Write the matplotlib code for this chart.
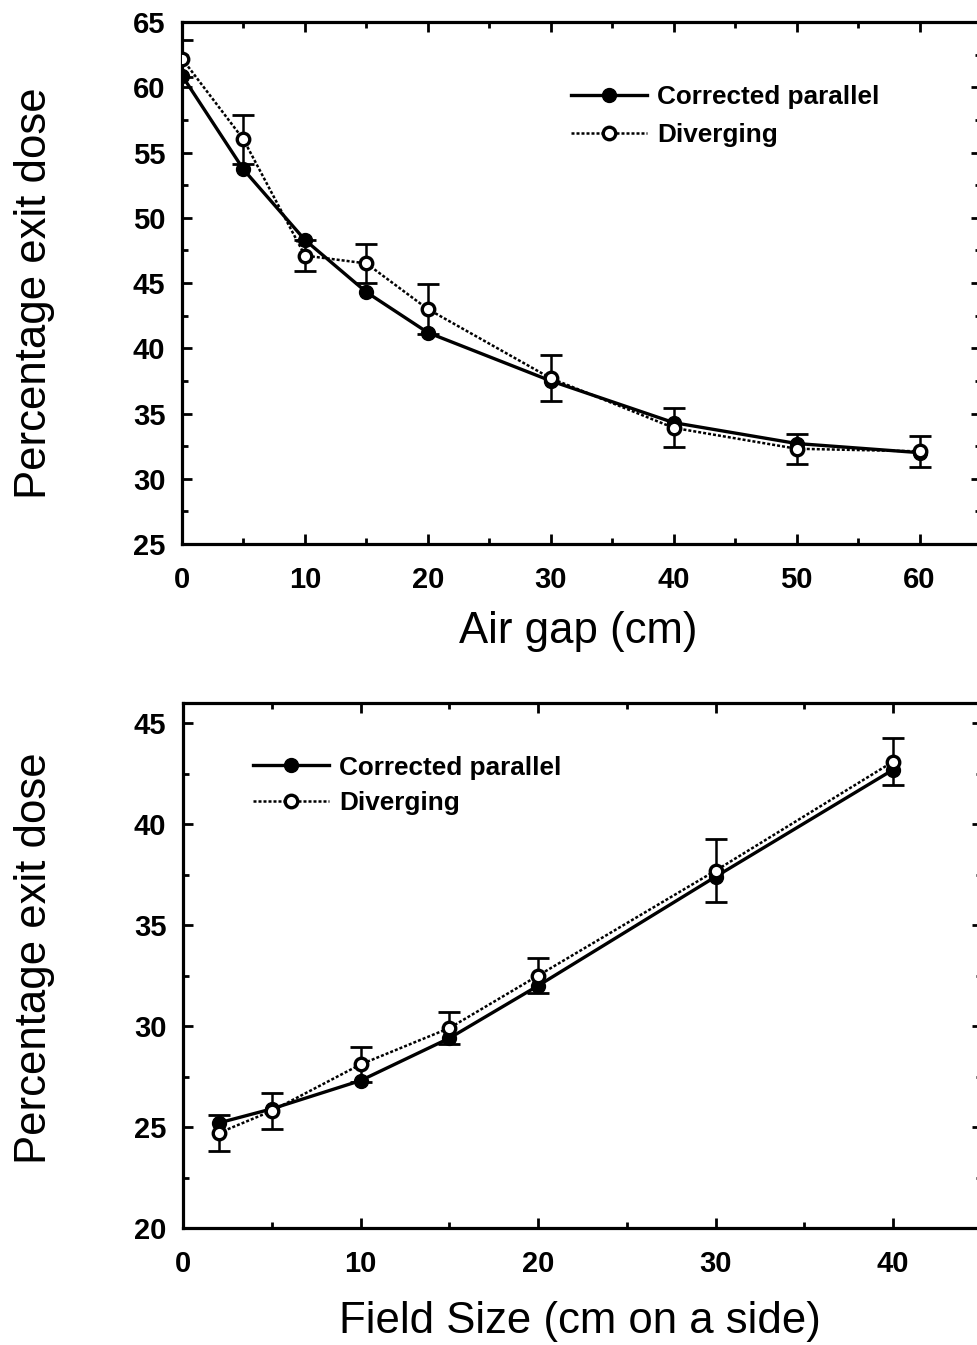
import matplotlib
matplotlib.use("Agg")
import matplotlib.pyplot as plt
from matplotlib.ticker import MultipleLocator

plt.rcParams['font.family'] = ['Liberation Sans', 'DejaVu Sans']

# ---- Data: top panel (air gap) ----
air_gap = [0, 5, 10, 15, 20, 30, 40, 50, 60]
air_parallel = [60.9, 53.7, 48.3, 44.3, 41.2, 37.5, 34.3, 32.7, 32.0]
air_diverging = [62.2, 56.0, 47.1, 46.5, 43.0, 37.7, 33.9, 32.3, 32.1]
air_div_err = [1.4, 1.9, 1.2, 1.5, 1.9, 1.75, 1.5, 1.15, 1.2]

# ---- Data: bottom panel (field size) ----
field_size = [2, 5, 10, 15, 20, 30, 40]
field_parallel = [25.2, 25.9, 27.3, 29.4, 32.0, 37.4, 42.7]
field_diverging = [24.7, 25.8, 28.1, 29.9, 32.5, 37.7, 43.1]
field_div_err = [0.9, 0.9, 0.85, 0.8, 0.85, 1.55, 1.15]

labels = ["Corrected parallel", "Diverging"]
ylabel = "Percentage exit dose"

fig = plt.figure(figsize=(9.78, 13.45), dpi=100)
W, H = 978, 1345

def add_axes(l, t, r, b):
    return fig.add_axes([l / W, 1 - b / H, (r - l) / W, (b - t) / H])

ax1 = add_axes(182, 22, 981, 544)
ax2 = add_axes(183, 703, 982, 1228)

def style(ax):
    for s in ax.spines.values():
        s.set_linewidth(2.3)
    ax.tick_params(which='both', direction='in', top=True, right=True,
                   width=2.0, labelsize=21)
    ax.tick_params(axis='x', pad=16)
    ax.tick_params(axis='y', pad=12)
    ax.tick_params(which='major', length=7)
    ax.tick_params(which='minor', length=4)
    for lab in ax.get_xticklabels() + ax.get_yticklabels():
        lab.set_fontweight('bold')

def plot_panel(ax, x, par, div, err):
    ax.plot(x, par, '-', color='black', lw=2.4, marker='o', ms=10,
            mfc='black', mec='black', label=labels[0], zorder=3)
    ax.errorbar(x, div, yerr=err, fmt='none', ecolor='black', elinewidth=1.8,
                capsize=8, capthick=2.0, zorder=2)
    ax.plot(x, div, linestyle=(0, (1.2, 0.8)), color='black', lw=1.8, marker='o',
            ms=9, mfc='white', mec='black', mew=2.4, label=labels[1], zorder=4)

# Top panel
plot_panel(ax1, air_gap, air_parallel, air_diverging, air_div_err)
ax1.set_xlim(0, 65)
ax1.set_ylim(25, 65)
ax1.xaxis.set_major_locator(MultipleLocator(10))
ax1.xaxis.set_minor_locator(MultipleLocator(5))
ax1.yaxis.set_major_locator(MultipleLocator(5))
ax1.yaxis.set_minor_locator(MultipleLocator(2.5))
style(ax1)
ax1.legend(loc='upper left', bbox_to_anchor=(0.487, 0.88), frameon=False,
           handlelength=2.9, handletextpad=0.4, borderpad=0, borderaxespad=0,
           labelspacing=0.55, prop={'weight': 'bold', 'size': 18.8})

# Bottom panel
plot_panel(ax2, field_size, field_parallel, field_diverging, field_div_err)
ax2.set_xlim(0, 45)
ax2.set_ylim(20, 46)
ax2.xaxis.set_major_locator(MultipleLocator(10))
ax2.xaxis.set_minor_locator(MultipleLocator(5))
ax2.yaxis.set_major_locator(MultipleLocator(5))
ax2.yaxis.set_minor_locator(MultipleLocator(2.5))
style(ax2)
ax2.legend(loc='upper left', bbox_to_anchor=(0.088, 0.9), frameon=False,
           handlelength=2.9, handletextpad=0.4, borderpad=0, borderaxespad=0,
           labelspacing=0.45, prop={'weight': 'bold', 'size': 18.8})

# Axis labels as figure text
fig.text(35 / W, 1 - 293 / H, ylabel, rotation=90, ha='center', va='center', fontsize=31.5)
fig.text(35 / W, 1 - 958 / H, ylabel, rotation=90, ha='center', va='center', fontsize=31.5)
fig.text(578 / W, 1 - 632 / H, "Air gap (cm)", ha='center', va='center', fontsize=31.5)
fig.text(580 / W, 1 - 1322 / H, "Field Size (cm on a side)", ha='center', va='center', fontsize=31.5)

fig.savefig("out.png", dpi=100)
